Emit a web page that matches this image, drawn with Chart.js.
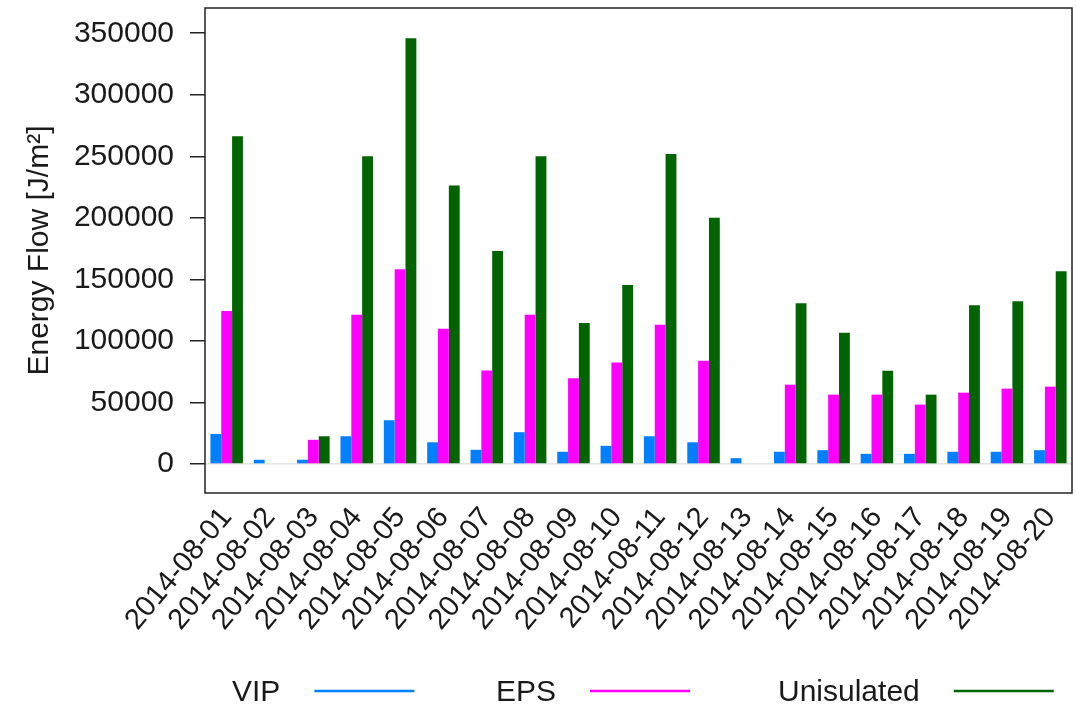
<!DOCTYPE html>
<html>
<head>
<meta charset="utf-8">
<script src="https://cdn.jsdelivr.net/npm/chart.js@4/dist/chart.umd.min.js"></script>
<style>
  html, body { margin: 0; padding: 0; background: #fff; }
  #wrap { width: 1076px; height: 711px; }
</style>
</head>
<body>
<div id="wrap"><canvas id="chart" width="1076" height="711"></canvas></div>
<script>
// ---- data ----
const DAYS = [
  '2014-08-01','2014-08-02','2014-08-03','2014-08-04','2014-08-05',
  '2014-08-06','2014-08-07','2014-08-08','2014-08-09','2014-08-10',
  '2014-08-11','2014-08-12','2014-08-13','2014-08-14','2014-08-15',
  '2014-08-16','2014-08-17','2014-08-18','2014-08-19','2014-08-20'
];
const VIP = [24500, 3500, 3500, 22600, 35600, 17700, 11600, 25900, 10000, 14800,
             22600, 17700, 4800, 10000, 11300, 8300, 8300, 10000, 10000, 11300];
const EPS = [124400, 0, 19700, 121400, 158300, 109900, 76000, 121400, 69800, 82600,
             113100, 84000, 0, 64500, 56400, 56400, 48300, 58000, 61300, 62900];
const UNINSULATED = [266300, 0, 22600, 250000, 346000, 226300, 173100, 250000, 114600, 145500,
                     251900, 200100, 0, 130700, 106600, 75900, 56400, 129100, 132300, 156600];
const Y_TICKS = [0, 50000, 100000, 150000, 200000, 250000, 300000, 350000];

const FONT = '"Liberation Sans", Arial, sans-serif';
const INK = '#1a1a1a';

// box around the plot region, like R's box()
const boxPlugin = {
  id: 'box',
  afterDraw(chart) {
    const a = chart.chartArea, c = chart.ctx;
    c.save();
    c.strokeStyle = '#222';
    c.lineWidth = 1.5;
    c.strokeRect(a.left, a.top, a.right - a.left, a.bottom - a.top);
    c.restore();
  }
};

// legend: label text then a line sample, spread along the bottom
const lineLegend = {
  id: 'lineLegend',
  afterDraw(chart, args, opts) {
    const c = chart.ctx;
    c.save();
    c.font = '30px ' + FONT;
    c.textBaseline = 'middle';
    chart.data.datasets.forEach((ds, i) => {
      const x = opts.starts[i];
      c.fillStyle = INK;
      c.fillText(ds.label, x, opts.y);
      const lx = x + c.measureText(ds.label).width + opts.gap;
      c.strokeStyle = ds.backgroundColor;
      c.lineWidth = 2.5;
      c.beginPath();
      c.moveTo(lx, opts.y - 2);
      c.lineTo(lx + opts.len, opts.y - 2);
      c.stroke();
    });
    c.restore();
  }
};

new Chart(document.getElementById('chart'), {
  type: 'bar',
  data: {
    labels: DAYS,
    datasets: [
      { label: 'VIP', data: VIP, backgroundColor: '#0080FF' },
      { label: 'EPS', data: EPS, backgroundColor: '#FF00FF' },
      { label: 'Unisulated', data: UNINSULATED, backgroundColor: '#006400' }
    ]
  },
  options: {
    responsive: false,
    animation: false,
    layout: { padding: { left: 14, right: 4, top: 8, bottom: 68 } },
    datasets: { bar: { categoryPercentage: 0.75, barPercentage: 1.0, borderWidth: 0 } },
    plugins: {
      legend: { display: false },
      tooltip: { enabled: false },
      lineLegend: { starts: [232, 496, 778], y: 693, gap: 34, len: 100 }
    },
    scales: {
      x: {
        grid: { display: false, drawTicks: false },
        border: { display: false },
        ticks: {
          autoSkip: false, minRotation: 50, maxRotation: 50, padding: 8,
          color: INK, font: { family: FONT, size: 29 }
        },
        afterFit(s) { s.height = 150; s.paddingLeft = 0; s.paddingRight = 0; }
      },
      y: {
        min: -23500, max: 370500,
        border: { display: false },
        grid: {
          tickLength: 15,
          tickColor: '#222',
          lineWidth: 1.5,
          color: ctx => (ctx.tick && ctx.tick.value === 0 ? '#e4e4e4' : 'rgba(0,0,0,0)')
        },
        ticks: {
          padding: 16, color: INK, font: { family: FONT, size: 30 },
          callback: v => String(v)
        },
        afterBuildTicks(s) { s.ticks = Y_TICKS.map(v => ({ value: v })); },
        title: {
          display: true, text: 'Energy Flow [J/m²]', color: INK,
          font: { family: FONT, size: 30 }, padding: { top: 8, bottom: 0 }
        },
        afterFit(s) { s.width = 191; s.paddingTop = 0; s.paddingBottom = 0; }
      }
    }
  },
  plugins: [boxPlugin, lineLegend]
});
</script>
</body>
</html>
